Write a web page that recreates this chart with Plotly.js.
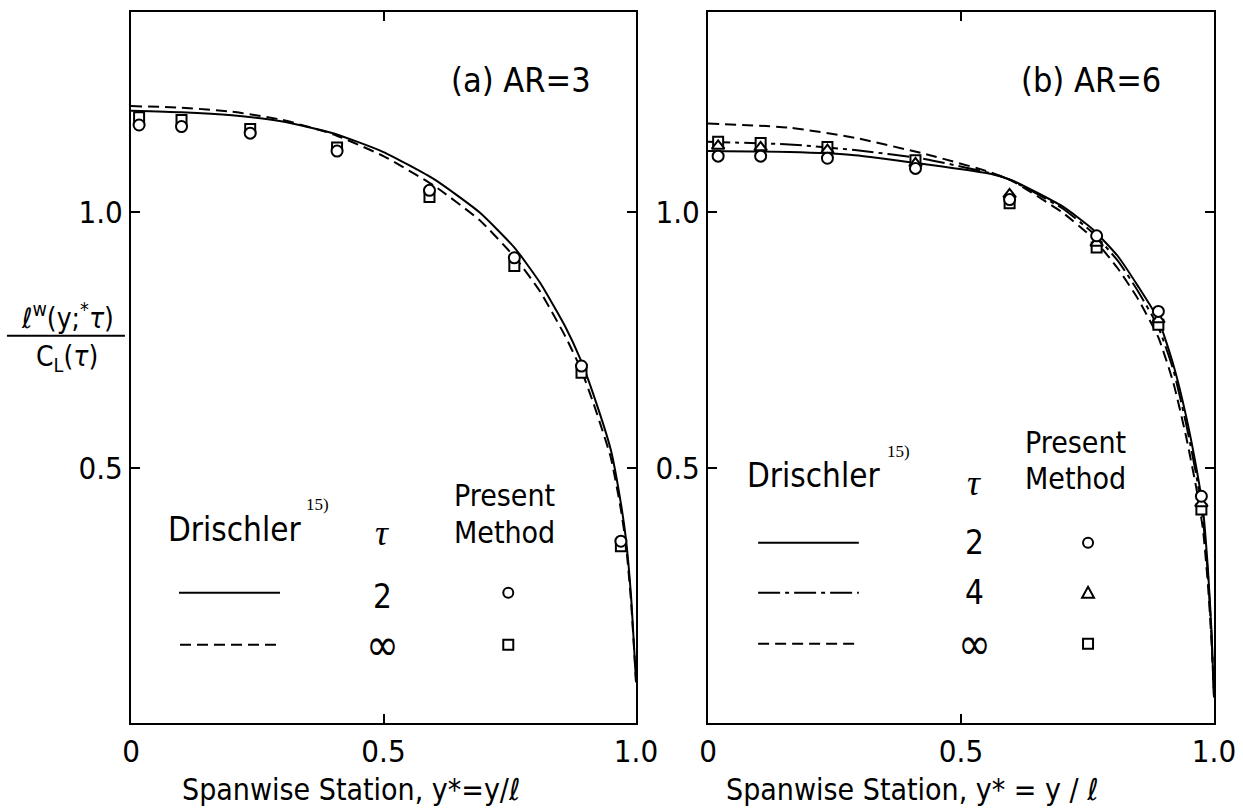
<!DOCTYPE html>
<html><head><meta charset="utf-8">
<script src="https://cdn.plot.ly/plotly-3.0.1.min.js"></script>
<style>html,body{margin:0;padding:0;background:#fff}</style>
</head><body><div id="chart" style="width:1243px;height:810px"></div>
<script>
// ---------- Panel (a) AR=3 ----------
const aCurveX   = [0, 0.1, 0.2, 0.3, 0.4, 0.5, 0.6, 0.69, 0.76, 0.81, 0.86, 0.89, 0.915, 0.95, 0.97, 0.98, 0.99, 1.0];
const aTau2     = [1.199, 1.196, 1.19, 1.178, 1.155, 1.118, 1.065, 1.0, 0.93, 0.862, 0.776, 0.712, 0.645, 0.535, 0.43, 0.36, 0.25, 0.08];
const aTauInf   = [1.208, 1.205, 1.197, 1.181, 1.153, 1.11, 1.052, 0.985, 0.912, 0.845, 0.757, 0.695, 0.628, 0.52, 0.418, 0.35, 0.24, 0.08];
const aStations = [0.016, 0.10, 0.236, 0.408, 0.591, 0.759, 0.892, 0.97];
const aPresent2   = [1.171, 1.168, 1.155, 1.12, 1.043, 0.911, 0.699, 0.356];
const aPresentInf = [1.186, 1.181, 1.163, 1.127, 1.03, 0.895, 0.686, 0.346];

// ---------- Panel (b) AR=6 ----------
const bCurveX   = [0, 0.16, 0.29, 0.43, 0.56, 0.6, 0.7, 0.76, 0.81, 0.85, 0.89, 0.92, 0.945, 0.965, 0.978, 0.988, 0.995, 1.0];
const bTau2     = [1.12, 1.118, 1.112, 1.094, 1.075, 1.063, 1.012, 0.967, 0.914, 0.855, 0.79, 0.70, 0.60, 0.50, 0.42, 0.30, 0.18, 0.05];
const bTau4     = [1.138, 1.133, 1.122, 1.104, 1.076, 1.062, 1.008, 0.96, 0.905, 0.845, 0.775, 0.69, 0.585, 0.485, 0.40, 0.29, 0.17, 0.05];
const bTauInf   = [1.174, 1.166, 1.146, 1.114, 1.078, 1.062, 1.0, 0.95, 0.89, 0.83, 0.755, 0.665, 0.56, 0.46, 0.38, 0.27, 0.16, 0.05];
const bStations = [0.02, 0.104, 0.236, 0.41, 0.596, 0.768, 0.89, 0.975];
const bPresent2   = [1.110, 1.110, 1.106, 1.086, 1.025, 0.954, 0.806, 0.444];
const bPresent4   = [1.130, 1.127, 1.122, 1.096, 1.035, 0.94, 0.79, 0.43];
const bPresentInf = [1.138, 1.136, 1.128, 1.102, 1.018, 0.931, 0.78, 0.418];

const xTickVals = [0, 0.5, 1.0];
const xTickText = ['0', '0.5', '1.0'];
const yTickVals = [0.5, 1.0];
const yTickText = ['0.5', '1.0'];

const F = "'Liberation Sans Narrow','DejaVu Sans Condensed','Roboto Condensed','Arial Narrow','Liberation Sans',sans-serif";
const SERIF = "'Liberation Serif','DejaVu Serif',serif";
const K = '#000';
const DASH = '11px,6px';
const DASHDOT = '22px,5px,4px,5px';

function line(x, y, dash, xa, ya) {
  return {type:'scatter', mode:'lines', x:x, y:y, xaxis:xa, yaxis:ya,
    line:{color:K, width:2, dash:dash, shape:'spline', smoothing:0.5}, hoverinfo:'skip', showlegend:false};
}
function pts(x, y, sym, xa, ya) {
  return {type:'scatter', mode:'markers', x:x, y:y, xaxis:xa, yaxis:ya,
    marker:{symbol:sym, size:sym==='square'?10:11, color:'#fff', line:{color:K, width:2}}, hoverinfo:'skip', showlegend:false};
}

const data = [
  line(aCurveX, aTau2, 'solid', 'x', 'y'),
  line(aCurveX, aTauInf, DASH, 'x', 'y'),
  pts(aStations, aPresentInf, 'square', 'x', 'y'),
  pts(aStations, aPresent2, 'circle', 'x', 'y'),
  line(bCurveX, bTau2, 'solid', 'x2', 'y2'),
  line(bCurveX, bTau4, DASHDOT, 'x2', 'y2'),
  line(bCurveX, bTauInf, DASH, 'x2', 'y2'),
  pts(bStations, bPresentInf, 'square', 'x2', 'y2'),
  pts(bStations, bPresent4, 'triangle-up', 'x2', 'y2'),
  pts(bStations, bPresent2, 'circle', 'x2', 'y2')
];

function xax(dom, anchor) {
  return {domain:dom, anchor:anchor, range:[0,1], tickvals:xTickVals, ticktext:xTickText,
    ticks:'inside', ticklen:9, tickwidth:2, tickcolor:K, showline:true, linewidth:2, linecolor:K,
    mirror:'ticks', showgrid:false, zeroline:false, tickfont:{family:F, size:31, color:K}, fixedrange:true};
}
function yax(dom, anchor) {
  return {domain:dom, anchor:anchor, range:[0,1.392], tickvals:yTickVals, ticktext:yTickText,
    ticks:'inside', ticklen:9, tickwidth:2, tickcolor:K, showline:true, linewidth:2, linecolor:K,
    mirror:'ticks', showgrid:false, zeroline:false, tickfont:{family:F, size:31, color:K}, fixedrange:true};
}

function ann(xr, yr, x, y, text, opt) {
  opt = opt || {};
  return Object.assign({xref:xr, yref:yr, x:x, y:y, text:text, showarrow:false,
    xanchor:'center', yanchor:'middle', font:{family:F, size:31, color:K}}, opt);
}

const annotations = [
  // panel a
  ann('x','y',0.915,1.26,'(a) AR=3',{xanchor:'right', font:{family:F,size:34,color:K}}),
  ann('x','y',0.204,0.378,'Drischler',{font:{family:F,size:33,color:K}}),
  ann('x','y',0.343,0.428,'15)',{xanchor:'left', font:{family:SERIF,size:17,color:K}}),
  ann('x','y',0.497,0.372,'<i>τ</i>',{font:{family:SERIF,size:36,color:K}}),
  ann('x','y',0.636,0.446,'Present',{xanchor:'left', font:{family:F,size:30,color:K}}),
  ann('x','y',0.636,0.374,'Method',{xanchor:'left', font:{family:F,size:30,color:K}}),
  ann('x','y',0.497,0.247,'2',{font:{family:F,size:33,color:K}}),
  ann('x','y',0.497,0.153,'∞',{font:{family:F,size:44,color:K}}),
  // panel b
  ann('x2','y2',0.90,1.26,'(b) AR=6',{xanchor:'right', font:{family:F,size:34,color:K}}),
  ann('x2','y2',0.209,0.484,'Drischler',{font:{family:F,size:33,color:K}}),
  ann('x2','y2',0.35,0.532,'15)',{xanchor:'left', font:{family:SERIF,size:17,color:K}}),
  ann('x2','y2',0.526,0.47,'<i>τ</i>',{font:{family:SERIF,size:36,color:K}}),
  ann('x2','y2',0.623,0.55,'Present',{xanchor:'left', font:{family:F,size:30,color:K}}),
  ann('x2','y2',0.623,0.478,'Method',{xanchor:'left', font:{family:F,size:30,color:K}}),
  ann('x2','y2',0.526,0.353,'2',{font:{family:F,size:33,color:K}}),
  ann('x2','y2',0.526,0.255,'4',{font:{family:F,size:33,color:K}}),
  ann('x2','y2',0.526,0.155,'∞',{font:{family:F,size:44,color:K}}),
  // axis titles
  ann('paper','paper',0.2824,0.0247,'Spanwise Station, y*=y/ℓ',{font:{family:F,size:30,color:K}}),
  ann('paper','paper',0.7337,0.0247,'Spanwise Station, y* = y / ℓ',{font:{family:F,size:30,color:K}}),
  ann('paper','paper',0.0540,0.6096,'ℓ<sup>w</sup>(y;<sup>*</sup><i>τ</i>)',{font:{family:F,size:28,color:K}}),
  ann('paper','paper',0.0540,0.5580,'C<sub>L</sub>(<i>τ</i>)',{font:{family:F,size:28,color:K}})
];

function lg(xr, yr, x0, x1, y, dash) {
  return {type:'line', xref:xr, yref:yr, x0:x0, x1:x1, y0:y, y1:y, line:{color:K, width:2, dash:dash}};
}
function circ(xr, yr, x, y) {
  return {type:'circle', xref:xr, yref:yr, xsizemode:'pixel', ysizemode:'pixel', xanchor:x, yanchor:y,
    x0:-5, x1:5, y0:-5, y1:5, line:{color:K, width:2}, fillcolor:'#fff'};
}
function sq(xr, yr, x, y) {
  return {type:'rect', xref:xr, yref:yr, xsizemode:'pixel', ysizemode:'pixel', xanchor:x, yanchor:y,
    x0:-5, x1:5, y0:-5, y1:5, line:{color:K, width:2}, fillcolor:'#fff'};
}
function tri(xr, yr, x, y) {
  return {type:'path', xref:xr, yref:yr, xsizemode:'pixel', ysizemode:'pixel', xanchor:x, yanchor:y,
    path:'M -6 -5 L 6 -5 L 0 6 Z', line:{color:K, width:2}, fillcolor:'#fff'};
}

const shapes = [
  lg('x','y',0.095,0.295,0.255,'solid'),
  lg('x','y',0.097,0.295,0.153,DASH),
  circ('x','y',0.747,0.255),
  sq('x','y',0.747,0.153),
  lg('x2','y2',0.099,0.298,0.353,'solid'),
  lg('x2','y2',0.099,0.298,0.255,DASHDOT),
  lg('x2','y2',0.099,0.298,0.155,DASH),
  circ('x2','y2',0.751,0.353),
  tri('x2','y2',0.751,0.255),
  sq('x2','y2',0.751,0.155),
  {type:'line', xref:'paper', yref:'paper', x0:0.0056, x1:0.1005, y0:0.5855, y1:0.5855, line:{color:K, width:2}}
];

const layout = {
  width:1243, height:810, margin:{l:0, r:0, t:0, b:0},
  paper_bgcolor:'#fff', plot_bgcolor:'#fff', showlegend:false,
  xaxis: xax([0.1054, 0.5117], 'y'),
  yaxis: yax([0.1074, 0.985], 'x'),
  xaxis2: xax([0.5696, 0.9767], 'y2'),
  yaxis2: yax([0.1074, 0.985], 'x2'),
  annotations: annotations,
  shapes: shapes
};

Plotly.newPlot('chart', data, layout, {displayModeBar:false, staticPlot:true});
</script>
</body></html>
